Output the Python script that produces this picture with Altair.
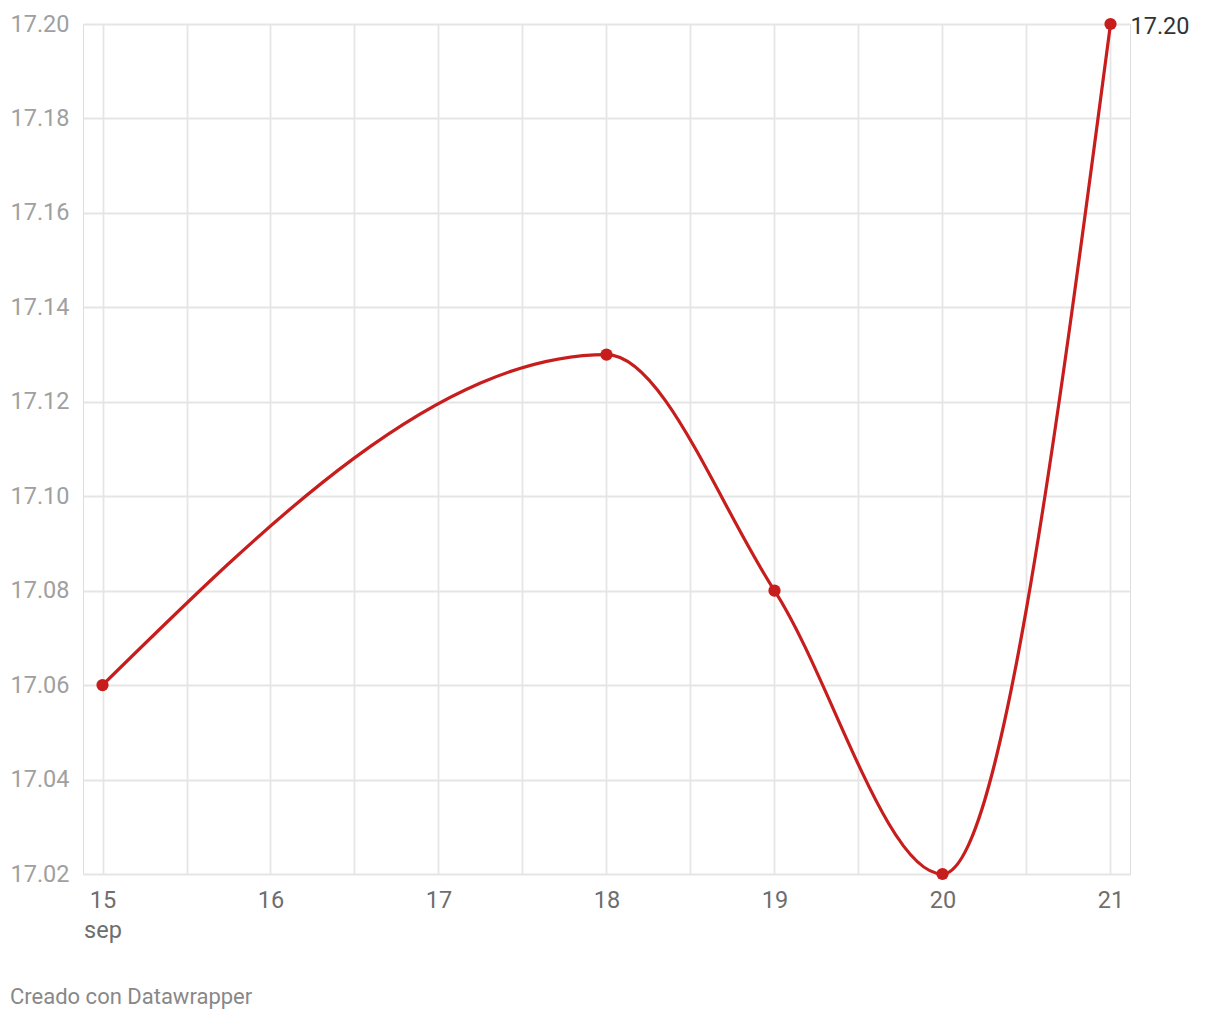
import altair as alt
import pandas as pd

days = [15, 18, 19, 20, 21]
values = [17.06, 17.13, 17.08, 17.02, 17.20]
x_ticks = [15, 15.5, 16, 16.5, 17, 17.5, 18, 18.5, 19, 19.5, 20, 20.5, 21]
y_ticks = [17.02, 17.04, 17.06, 17.08, 17.10, 17.12, 17.14, 17.16, 17.18, 17.20]
month_label = "sep"
end_label = "17.20"
footer = "Creado con Datawrapper"

RED = "#c71e1d"
FONT = "Roboto"
FS = 23.5

df = pd.DataFrame({"day": days, "value": values})
last = df.tail(1).assign(label=end_label)

x_enc = alt.X(
    "day:Q",
    scale=alt.Scale(domain=[15, 21], nice=False, zero=False, padding=19.5),
    axis=alt.Axis(
        values=x_ticks,
        title=None,
        domain=False,
        ticks=False,
        grid=True,
        gridColor="#e5e5e5",
        gridWidth=1.8,
        labelExpr=f"datum.value == 15 ? ['15', '{month_label}'] : (datum.value % 1 == 0 ? toString(datum.value) : '')",
        labelFont=FONT,
        labelFontSize=FS,
        labelColor="#6e6e6e",
        labelPadding=14,
        labelLineHeight=30,
        labelOverlap=False,
        labelFlush=False,
    ),
)
y_enc = alt.Y(
    "value:Q",
    scale=alt.Scale(domain=[17.02, 17.20], nice=False, zero=False),
    axis=alt.Axis(
        values=y_ticks,
        format=".2f",
        title=None,
        domain=False,
        ticks=False,
        grid=True,
        gridColor="#e5e5e5",
        gridWidth=1.8,
        labelFont=FONT,
        labelFontSize=FS,
        labelColor="#a0a0a0",
        labelAlign="left",
        labelBaseline="middle",
        labelPadding=73,
        labelOverlap=False,
        labelFlush=False,
    ),
)

base = alt.Chart(df)
line = base.mark_line(color=RED, strokeWidth=3.2, interpolate="monotone").encode(x=x_enc, y=y_enc)
pts = base.mark_circle(color=RED, size=150, opacity=1).encode(x="day:Q", y="value:Q")
lbl = alt.Chart(last).mark_text(
    align="left", baseline="middle", dx=20, dy=3, font=FONT, fontSize=FS, color="#333333"
).encode(x="day:Q", y="value:Q", text="label:N")
foot = alt.Chart(pd.DataFrame({"t": [footer]})).mark_text(
    align="left", baseline="middle", font=FONT, fontSize=22, color="#888888"
).encode(x=alt.value(-73), y=alt.value(973), text="t:N")

chart = (
    alt.layer(line, pts, lbl, foot)
    .properties(
        width=1047,
        height=850,
        autosize=alt.AutoSizeParams(type="none"),
        padding={"left": 75, "top": 16, "right": 78, "bottom": 136},
    )
    .configure_view(stroke=None)
    .configure(background="white")
)

chart.save("out.html", embed_options={"renderer": "svg", "actions": False})
